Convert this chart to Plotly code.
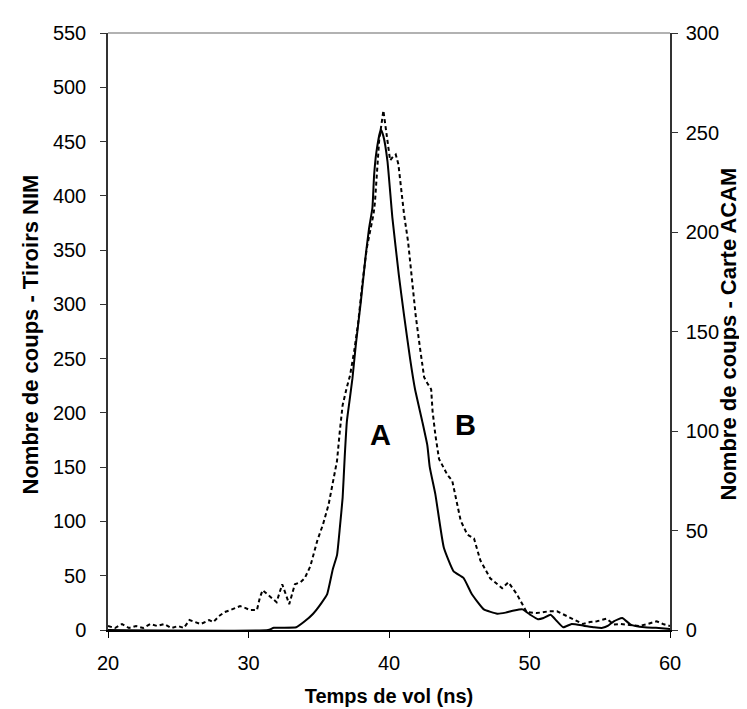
import plotly.graph_objects as go

# Curve A: NIM modules (left axis)
t_nim = [20, 31.4, 31.8, 33.4, 34.0, 34.6, 35.2, 35.6, 36.0, 36.3, 36.5, 36.7, 36.85, 37.0, 37.2, 37.4,
         37.64, 38.0, 38.35, 38.58, 38.82, 38.94, 39.1, 39.41, 39.6, 39.89, 40.24, 40.7, 41.07, 41.5,
         41.85, 42.37, 42.73, 42.9, 43.3, 43.9, 44.6, 45.3, 45.9, 46.75, 47.7, 48.3, 48.9, 49.5,
         50.06, 50.6, 51.0, 51.5, 51.96, 52.4, 53.0, 53.85, 54.6, 55.2, 55.6, 56.0, 56.6, 57.2,
         58.2, 59.0, 60]
n_nim = [0, 0, 2, 2.5, 8, 15, 25, 33, 56, 69, 94, 122, 160, 192, 212, 232,
         263, 303, 346, 370, 389, 419, 440, 461, 455, 432, 380, 327, 290, 250,
         222, 192, 170, 150, 125, 76, 54, 48, 33, 19, 15, 16, 18, 19,
         14, 10, 11, 14, 8, 2.5, 5.5, 4, 2.5, 2, 4, 8, 11, 5,
         2.5, 2, 1]

# Curve B: ACAM card (right axis)
t_acam = [20.0, 20.5, 21.0, 21.5, 22.0, 22.5, 23.0, 23.5, 24.0, 24.5, 25.0, 25.4, 25.8, 26.2, 26.6,
          27.2, 27.5, 27.9, 28.3, 28.7, 29.1, 29.4, 29.8, 30.1, 30.6, 30.8, 31.0, 31.5, 32.0, 32.4,
          32.9, 33.3, 33.7, 34.0, 34.4, 34.9, 35.3, 35.7, 36.0, 36.3, 36.5, 36.7, 37.0, 37.23,
          37.52, 37.8, 38.1, 38.42, 38.7, 38.9, 39.0, 39.18, 39.3, 39.6, 39.89, 40.08, 40.3, 40.48,
          40.67, 40.83, 41.07, 41.36, 41.66, 41.9, 42.2, 42.5, 42.73, 43.0, 43.1, 43.3, 43.56,
          43.8, 44.15, 44.5, 44.76, 45.1, 45.57, 46.05, 46.5, 47.2, 48.05, 48.5, 49.1, 49.8, 50.5,
          51.0, 51.4, 51.96, 52.7, 53.4, 53.8, 54.3, 54.8, 55.5, 56.0, 56.5, 57.1, 57.8, 58.4,
          59.05, 59.5, 60]
n_acam = [2, 1, 3, 1, 2, 1, 3, 2, 3, 1, 2, 1, 5, 4, 3,
          5, 4, 7, 9, 10, 11, 12, 11, 10, 10, 16, 20, 17, 14, 23,
          13, 23, 24, 26, 32, 45, 53, 63, 75, 85, 100, 113, 122, 128,
          140, 154, 174, 192, 202, 209, 215, 232, 246, 261, 246, 236, 238, 239,
          234, 223, 209, 195, 175, 158, 142, 127, 124, 121, 110, 98, 86,
          83, 78, 75, 66, 55, 48, 46, 35, 26, 21, 24, 18, 9, 8.5,
          9, 9.4, 9.4, 6.9, 4.4, 3, 4, 4.4, 5.7, 2.7, 3, 2.7, 2, 3,
          4.4, 3, 2]

x_ticks = [20, 30, 40, 50, 60]

font_fam = "Liberation Sans, Arial, sans-serif"

fig = go.Figure()
fig.add_trace(go.Scatter(x=t_nim, y=n_nim, mode="lines", yaxis="y",
                         line=dict(color="black", width=2, shape="spline", smoothing=0.4),
                         showlegend=False))
fig.add_trace(go.Scatter(x=t_acam, y=n_acam, mode="lines", yaxis="y2",
                         line=dict(color="black", width=2, dash="4px,3px"),
                         showlegend=False))

fig.add_annotation(x=39.4, y=180, xref="x", yref="y", text="<b>A</b>", showarrow=False,
                   font=dict(family=font_fam, size=29, color="black"))
fig.add_annotation(x=45.45, y=189, xref="x", yref="y", text="<b>B</b>", showarrow=False,
                   font=dict(family=font_fam, size=29, color="black"))

# axis titles (rotated) placed as annotations for exact positioning
ytitle_font = dict(family=font_fam, size=22, color="black")
fig.add_annotation(x=-78 / 562, y=0.495, xref="paper", yref="paper", xanchor="center", yanchor="middle",
                   text="<b>Nombre de coups - Tiroirs NIM</b>", textangle=-90, showarrow=False,
                   font=ytitle_font)
fig.add_annotation(x=620 / 562, y=0.495, xref="paper", yref="paper", xanchor="center", yanchor="middle",
                   text="<b>Nombre de coups - Carte ACAM</b>", textangle=-90, showarrow=False,
                   font=ytitle_font)

fig.add_shape(type="line", xref="paper", yref="paper", x0=0, x1=1, y0=1, y1=1,
              line=dict(color="#999999", width=1.5))

xtitle_font = dict(family=font_fam, size=20, color="black")

fig.update_layout(
    width=747, height=709,
    margin=dict(l=100, r=85, t=25, b=87),
    paper_bgcolor="white", plot_bgcolor="white",
    font=dict(family=font_fam, size=20, color="black"),
    xaxis=dict(range=[20, 60], tickvals=x_ticks, ticks="outside", ticklen=6, tickcolor="black",
               ticklabelstandoff=8, automargin=False,
               showline=True, linecolor="black", linewidth=1.5, showgrid=False, zeroline=False,
               title=dict(text="<b>Temps de vol (ns)</b>", font=xtitle_font, standoff=16)),
    yaxis=dict(range=[0, 550], dtick=50, ticks="outside", ticklen=6, tickcolor="#333333",
               ticklabelstandoff=10, automargin=False,
               showline=True, linecolor="#333333", linewidth=1.5, showgrid=False, zeroline=False),
    yaxis2=dict(range=[0, 300], dtick=50, ticks="outside", ticklen=6, tickcolor="#333333",
                ticklabelstandoff=4, automargin=False,
                overlaying="y", side="right",
                showline=True, linecolor="#333333", linewidth=1.5, showgrid=False, zeroline=False),
)

fig.write_html("out.html")
